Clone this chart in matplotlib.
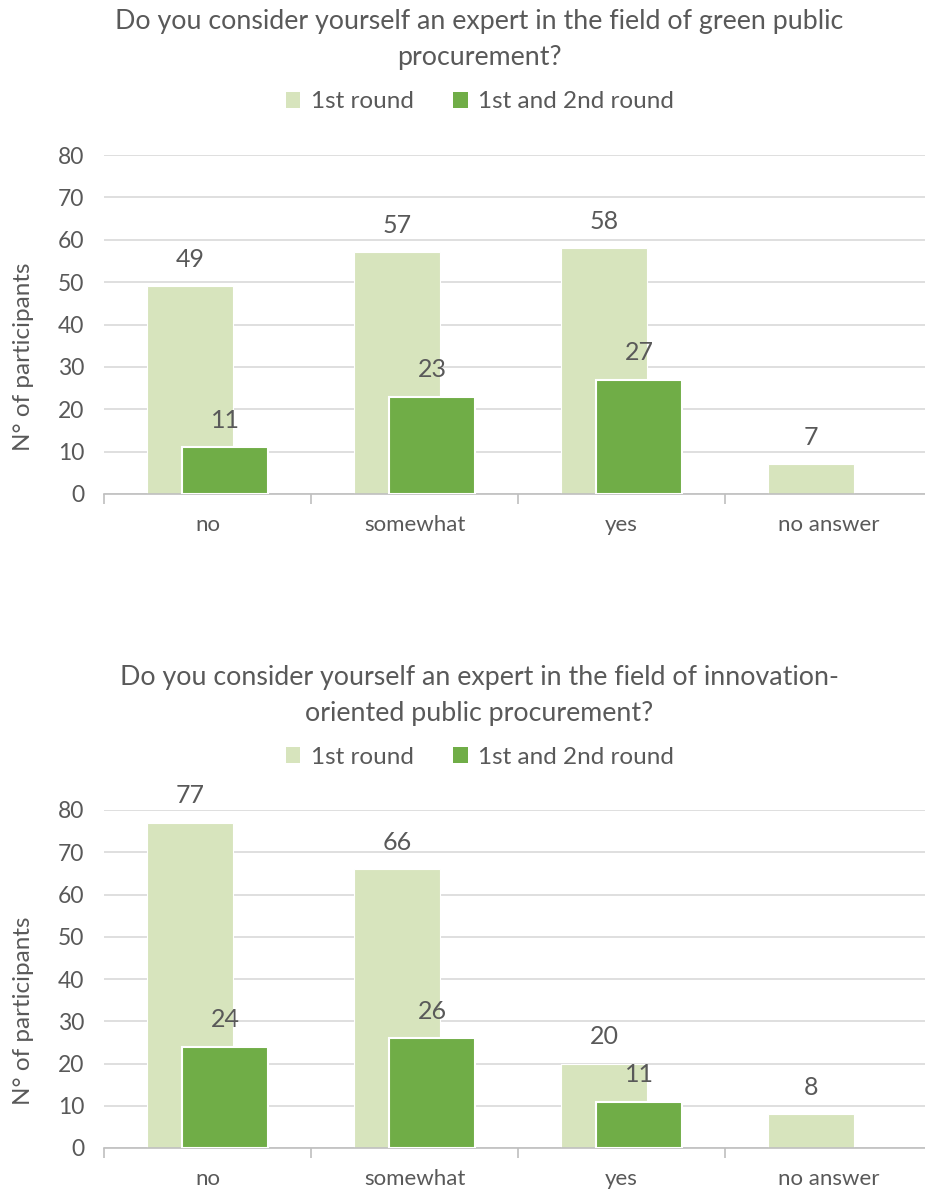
import matplotlib
matplotlib.use("Agg")
import matplotlib.pyplot as plt
import numpy as np
from matplotlib.patches import Patch

plt.rcParams['font.family'] = ['Lato', 'DejaVu Sans']

categories = ["no", "somewhat", "yes", "no answer"]
series_names = ["1st round", "1st and 2nd round"]

green_round1 = [49, 57, 58, 7]
green_round12 = [11, 23, 27, None]
innov_round1 = [77, 66, 20, 8]
innov_round12 = [24, 26, 11, None]

titles = [
    "Do you consider yourself an expert in the field of green public\nprocurement?",
    "Do you consider yourself an expert in the field of innovation-\noriented public procurement?",
]
y_label = "N° of participants"
y_ticks = [0, 10, 20, 30, 40, 50, 60, 70, 80]

LIGHT = "#d7e4bd"
DARK = "#70ad47"
TEXT = "#595959"
GRID = "#d9d9d9"

W, H = 925, 1195
fig = plt.figure(figsize=(W / 100, H / 100), dpi=100)


def px_axes(left, right, top, bottom):
    return fig.add_axes([left / W, 1 - bottom / H, (right - left) / W, (bottom - top) / H])


def draw_panel(ax, r1, r12):
    x = np.arange(len(categories))
    width = 0.415
    off = 0.085
    for xi, v in zip(x, r1):
        ax.bar(xi - off, v, width, color=LIGHT, edgecolor="white", linewidth=0.8, zorder=2)
        ax.annotate(str(v), (xi - off, v), xytext=(0, 27), textcoords="offset pixels",
                    ha="center", va="center", fontsize=18, color=TEXT, annotation_clip=False)
    for xi, v in zip(x, r12):
        if v is None:
            continue
        ax.bar(xi + off, v, width, color=DARK, edgecolor="white", linewidth=1.5, zorder=3)
        ax.annotate(str(v), (xi + off, v), xytext=(0, 27), textcoords="offset pixels",
                    ha="center", va="center", fontsize=18, color=TEXT, annotation_clip=False)
    ax.set_xlim(-0.5, len(categories) - 0.5)
    ax.set_ylim(0, 80)
    ax.set_yticks(y_ticks)
    ax.yaxis.grid(True, color=GRID, linewidth=1.2, zorder=0)
    ax.set_axisbelow(True)
    for s in ["left", "right", "top"]:
        ax.spines[s].set_visible(False)
    ax.spines["bottom"].set_color("#bfbfbf")
    ax.spines["bottom"].set_linewidth(1.2)
    ax.set_xticks(x)
    ax.set_xticklabels(categories)
    ax.set_xticks(np.arange(-0.5, len(categories)), minor=True)
    ax.tick_params(axis="x", which="major", length=0, pad=15, labelsize=16, labelcolor=TEXT)
    ax.tick_params(axis="x", which="minor", length=7, color="#bfbfbf", width=1.2)
    ax.tick_params(axis="y", length=0, pad=14, labelsize=16.5, labelcolor=TEXT)
    ax.set_ylabel(y_label, fontsize=17.5, color=TEXT)
    ax.yaxis.set_label_coords(-0.085, 0.405)


ax1 = px_axes(104, 932, 155, 494)
draw_panel(ax1, green_round1, green_round12)
ax2 = px_axes(104, 932, 810, 1148)
draw_panel(ax2, innov_round1, innov_round12)

for title, ty, ly in [(titles[0], 40, 102), (titles[1], 695, 757)]:
    fig.text(479 / W, 1 - ty / H, title, ha="center", va="center", fontsize=19.3,
             color=TEXT, linespacing=1.55)
    handles = [Patch(facecolor=LIGHT), Patch(facecolor=DARK)]
    fig.legend(handles, series_names, loc="center", bbox_to_anchor=(480 / W, 1 - ly / H),
               ncol=2, frameon=False, fontsize=17.5, labelcolor=TEXT, handlelength=0.6,
               handleheight=0.6, handletextpad=0.45, columnspacing=1.6)

fig.savefig("out.png", dpi=100)
